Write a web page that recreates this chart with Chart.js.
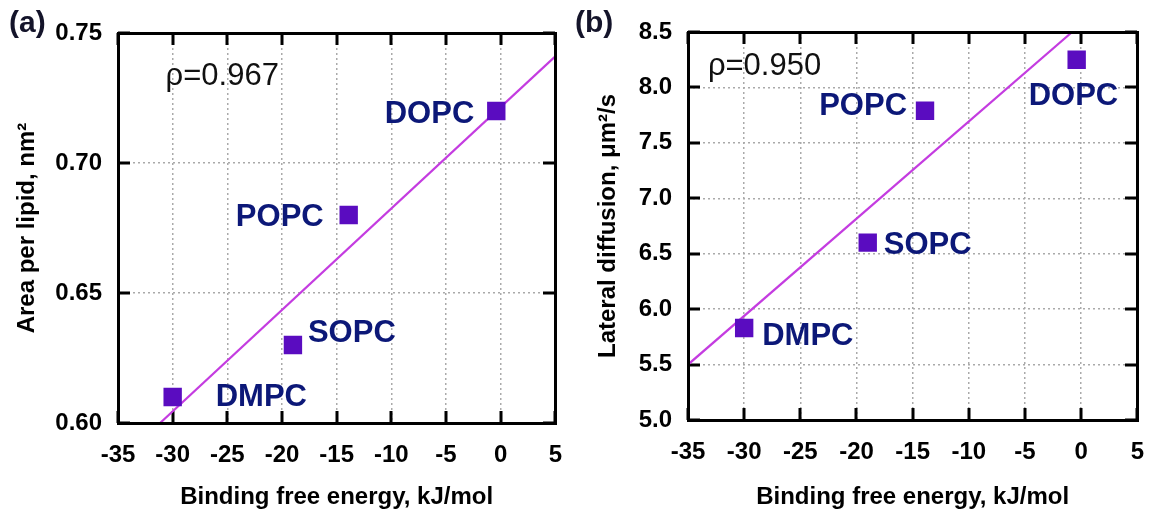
<!DOCTYPE html>
<html>
<head>
<meta charset="utf-8">
<script src="https://cdn.jsdelivr.net/npm/chart.js@4.4.1/dist/chart.umd.min.js"></script>
<style>
html,body{margin:0;padding:0;background:#fff;}
#wrap{position:relative;width:1162px;height:509px;overflow:hidden;background:#fff;}
#ca{position:absolute;left:0;top:0;}
#cb{position:absolute;left:570px;top:0;}
</style>
</head>
<body>
<div id="wrap">
<canvas id="ca" width="580" height="509"></canvas>
<canvas id="cb" width="592" height="509"></canvas>
</div>
<script>
// ---------- data ----------
const lipids = ['DMPC', 'SOPC', 'POPC', 'DOPC'];
const bindingEnergy = [-30.0, -19.0, -13.9, -0.4];          // kJ/mol (x)
const areaPerLipid = [0.610, 0.630, 0.680, 0.720];           // nm^2 (panel a)
const lateralDiffusion = [5.83, 6.60, 7.79, 8.25];           // um^2/s (panel b)
const fitA_x = [-31.15, 5.0];
const fitA_y = [0.600, 0.741];
const fitB_x = [-35.0, -0.8];
const fitB_y = [5.50, 8.50];
const rhoA = 'ρ=0.967';
const rhoB = 'ρ=0.950';
const xTicks = [-35, -30, -25, -20, -15, -10, -5, 0, 5];
const yTicksA = [0.60, 0.65, 0.70, 0.75];
const yTicksB = [5.0, 5.5, 6.0, 6.5, 7.0, 7.5, 8.0, 8.5];

const FONT = '"Liberation Sans", Arial, Helvetica, sans-serif';
const MARK = '#5a0cc0';
const LINE = '#c43ce0';
const LABEL = '#0c1878';

function pts(xs, ys){ return xs.map((x,i)=>({x:x, y:ys[i]})); }

function framePlugin(opts){
  return {
    id: 'frame_' + opts.panel,
    beforeDatasetsDraw(chart){
      const ctx = chart.ctx, a = chart.chartArea;
      const sx = chart.scales.x, sy = chart.scales.y;
      ctx.save();
      ctx.setLineDash([]);
      ctx.fillStyle = '#000000';
      const L = Math.round(a.left), R = Math.round(a.right), T = Math.round(a.top), B = Math.round(a.bottom);
      // inward ticks on all four sides
      const tl = 12;
      for (let k = 0; k < xTicks.length; k++) {
        const p = Math.round(sx.getPixelForValue(xTicks[k]));
        ctx.fillRect(p - 1.5, B - tl, 3, tl);
        ctx.fillRect(p - 1.5, T, 3, tl);
      }
      for (let k = 0; k < opts.yTicks.length; k++) {
        const p = Math.round(sy.getPixelForValue(opts.yTicks[k]));
        ctx.fillRect(L, p - 1.5, tl, 3);
        ctx.fillRect(R - tl, p - 1.5, tl, 3);
      }
      ctx.restore();
    },
    afterDraw(chart){
      const ctx = chart.ctx, a = chart.chartArea;
      const sx = chart.scales.x, sy = chart.scales.y;
      ctx.save();
      ctx.setLineDash([]);
      // point labels
      ctx.fillStyle = LABEL;
      ctx.font = 'bold 31px ' + FONT;
      ctx.textBaseline = 'middle';
      opts.labels.forEach((lab, i) => {
        const px = sx.getPixelForValue(bindingEnergy[i]);
        const py = sy.getPixelForValue(opts.values[i]);
        const o = opts.offsets[i];
        ctx.textAlign = o[2];
        ctx.fillText(lab, px + o[0], py + o[1]);
      });
      // rho
      ctx.fillStyle = '#111';
      ctx.font = '31px ' + FONT;
      ctx.textAlign = 'left';
      ctx.fillText(opts.rho, sx.getPixelForValue(opts.rhoPos[0]), sy.getPixelForValue(opts.rhoPos[1]));
      // frame (solid 3px)
      ctx.fillStyle = '#000000';
      const L = Math.round(a.left), R = Math.round(a.right), T = Math.round(a.top), B = Math.round(a.bottom);
      ctx.fillRect(L - 1, T - 1, R - L + 3, 3);
      ctx.fillRect(L - 1, B - 1, R - L + 3, 3);
      ctx.fillRect(L - 1, T - 1, 3, B - T + 3);
      ctx.fillRect(R - 1, T - 1, 3, B - T + 3);
      // panel letter
      ctx.fillStyle = '#14142a';
      ctx.font = 'bold 30px ' + FONT;
      ctx.textAlign = 'left';
      ctx.textBaseline = 'middle';
      ctx.fillText(opts.letter, opts.letterPos[0], opts.letterPos[1]);
      ctx.restore();
    }
  };
}

function makeChart(id, o){
  return new Chart(document.getElementById(id), {
    type: 'scatter',
    data: {
      datasets: [
        { type: 'line', data: pts(o.fitX, o.fitY), borderColor: LINE, borderWidth: 2.2,
          pointRadius: 0, fill: false, tension: 0, order: 2 },
        { data: pts(bindingEnergy, o.values), pointStyle: 'rect', pointRadius: 13,
          pointHoverRadius: 13, backgroundColor: MARK, borderColor: MARK, borderWidth: 0, order: 1 }
      ]
    },
    options: {
      responsive: false, animation: false, devicePixelRatio: 1,
      layout: { padding: { top: o.padTop, right: o.padRight, left: 0, bottom: 0 } },
      plugins: { legend: { display: false }, tooltip: { enabled: false } },
      scales: {
        x: {
          type: 'linear', min: -35, max: 5,
          afterBuildTicks: s => { s.ticks = xTicks.map(v => ({value: v})); },
          afterFit: s => { s.height = o.xH; },
          ticks: { color: '#000', font: { family: FONT, size: 24, weight: 'bold' }, padding: 18,
                   maxRotation: 0, autoSkip: false },
          grid: { color: '#aaaaaa', lineWidth: 1.5, drawTicks: false },
          border: { display: false, dash: [2, 3] },
          title: { display: true, text: 'Binding free energy, kJ/mol', color: '#000',
                   font: { family: FONT, size: 24, weight: 'bold', lineHeight: 1 },
                   padding: { top: 0, bottom: 0 } }
        },
        y: {
          type: 'linear', min: o.yMin, max: o.yMax,
          afterBuildTicks: s => { s.ticks = o.yTicks.map(v => ({value: v})); },
          afterFit: s => { s.width = o.yW; },
          ticks: { color: '#000', font: { family: FONT, size: 24, weight: 'bold' }, padding: 16,
                   autoSkip: false, callback: v => Number(v).toFixed(o.dec) },
          grid: { color: '#aaaaaa', lineWidth: 1.5, drawTicks: false },
          border: { display: false, dash: [2, 3] },
          title: { display: true, text: o.yTitle, color: '#000',
                   font: { family: FONT, size: 24, weight: 'bold', lineHeight: 1 },
                   padding: { top: o.yTitlePad, bottom: 0 } }
        }
      }
    },
    plugins: [framePlugin(o)]
  });
}

makeChart('ca', {
  panel: 'a', values: areaPerLipid, fitX: fitA_x, fitY: fitA_y,
  yMin: 0.60, yMax: 0.75, yTicks: yTicksA, dec: 2,
  yTitle: 'Area per lipid, nm²', yTitlePad: 15,
  padTop: 33, padRight: 15, xH: 86, yW: 118,
  labels: lipids,
  offsets: [[43, 0, 'left'], [15, -12, 'left'], [-25, 2, 'right'], [-22, 3, 'right']],
  rho: rhoA, rhoPos: [-30.65, 0.7333],
  letter: '(a)', letterPos: [9, 24]
});

makeChart('cb', {
  panel: 'b', values: lateralDiffusion, fitX: fitB_x, fitY: fitB_y,
  yMin: 5.0, yMax: 8.5, yTicks: yTicksB, dec: 1,
  yTitle: 'Lateral diffusion, μm²/s', yTitlePad: 26,
  padTop: 32, padRight: 13, xH: 89, yW: 118,
  labels: lipids,
  offsets: [[18, 8, 'left'], [16, 3, 'left'], [-18, -4, 'right'], [-48, 37, 'left']],
  rho: rhoB, rhoPos: [-33.23, 8.19],
  letter: '(b)', letterPos: [5, 24]
});
</script>
</body>
</html>
